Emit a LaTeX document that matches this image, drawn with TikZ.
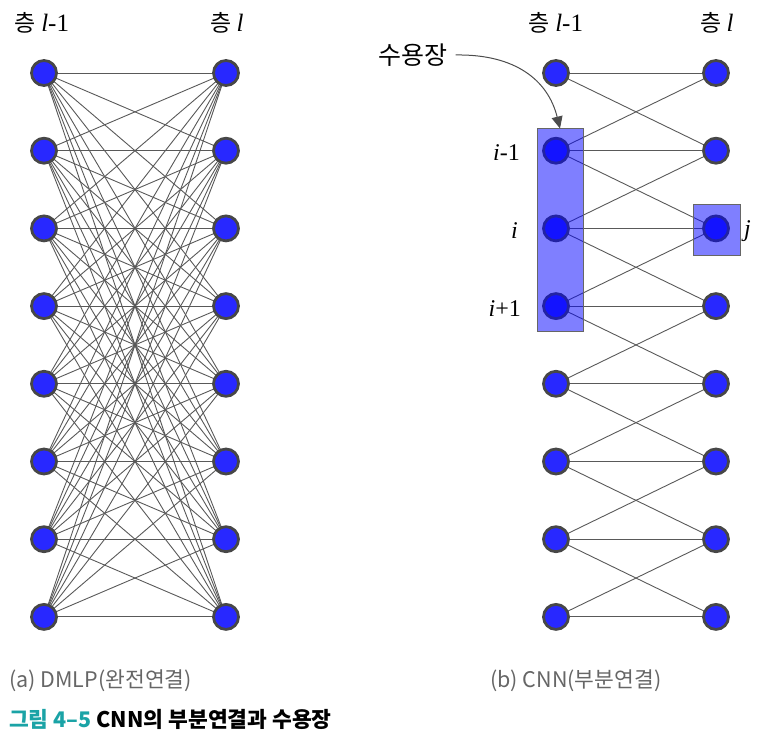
\documentclass[tikz,border=0pt]{standalone}
\usepackage{fontspec}
\newfontfamily\kr{Noto Sans CJK KR}
\newfontfamily\tms{Liberation Serif}
\usetikzlibrary{arrows.meta}
\pgfdeclarelayer{bg}
\pgfsetlayers{bg,main}
\definecolor{neufill}{RGB}{40,40,255}
\definecolor{teal5}{RGB}{26,163,166}
\tikzset{
  neuron/.style={circle, draw=black!72, line width=2.8pt, fill=neufill, minimum size=25pt, inner sep=0pt},
  conn/.style={draw=black!65, line width=0.9pt},
  layerlab/.style={font=\kr\fontsize{23}{23}\selectfont, inner sep=0pt},
  idxlab/.style={font=\tms\fontsize{24}{24}\selectfont, inner sep=0pt},
  rfbox/.style={draw=black!60, line width=1pt, fill=blue, fill opacity=0.5, inner sep=0pt},
  subcap/.style={font=\kr\fontsize{21.5}{22}\selectfont, text=black!60, inner sep=0pt, anchor=west},
  figcap/.style={font=\kr\bfseries\fontsize{21.5}{22}\selectfont, inner sep=0pt, anchor=west}
}
\begin{document}
\begin{tikzpicture}[x=1pt,y=-1pt]
\useasboundingbox (0,0) rectangle (780,743);
% ---- layer labels
\node[layerlab] (la1) at (42,23) {층 {\tms\itshape\fontsize{25}{25}\selectfont l\/}{\tms\fontsize{25}{25}\selectfont -1}};
\node[layerlab] (la2) at (227,23) {층 {\tms\itshape\fontsize{25}{25}\selectfont l}};
\node[layerlab] (lb1) at (556,23) {층 {\tms\itshape\fontsize{25}{25}\selectfont l\/}{\tms\fontsize{25}{25}\selectfont -1}};
\node[layerlab] (lb2) at (717,23) {층 {\tms\itshape\fontsize{25}{25}\selectfont l}};
% ---- neurons
\foreach \k in {0,...,7}{
  \pgfmathsetmacro{\yy}{73+77.7*\k}
  \node[neuron] (L\k) at (44,\yy) {};
  \node[neuron] (R\k) at (226,\yy) {};
  \node[neuron] (P\k) at (556,\yy) {};
  \node[neuron] (Q\k) at (716,\yy) {};
}
% ---- connections
\begin{pgfonlayer}{bg}
\foreach \a in {0,...,7}{
  \foreach \b in {0,...,7}{
    \draw[conn] (L\a.center) -- (R\b.center);
  }
}
\foreach \a in {0,...,7}{
  \draw[conn] (P\a.center) -- (Q\a.center);
}
\foreach \a [evaluate=\a as \b using int(\a+1)] in {0,...,6}{
  \draw[conn] (P\a.center) -- (Q\b.center);
  \draw[conn] (P\b.center) -- (Q\a.center);
}
\end{pgfonlayer}
% ---- receptive field boxes
\node[rfbox, minimum width=46pt, minimum height=203pt] (rf) at (560,230.5) {};
\node[rfbox, minimum width=47pt, minimum height=51pt] (jb) at (716.5,230.5) {};
% ---- index labels
\node[idxlab, anchor=east] (im1) at (520,152.7) {\itshape i\/\upshape -1};
\node[idxlab, anchor=east] (i0) at (518,230.4) {\itshape i};
\node[idxlab, anchor=east] (ip1) at (521,308.1) {\itshape i\/\upshape +1};
\node[idxlab, anchor=west] (jl) at (744,231) {\itshape j};
% ---- receptive field label and arrow
\node[font=\kr\fontsize{25}{25}\selectfont, inner sep=0pt] (rfl) at (413,55) {수용장};
\draw[draw=black!70, line width=1pt, -{Triangle[length=12pt,width=11pt]}]
  ([xshift=8pt]rfl.east) .. controls (515,54) and (548,80) .. (rf.north);
% ---- captions
\node[subcap] (ca) at (9,681) {(a) DMLP(완전연결)};
\node[subcap] (cb) at (490,681) {(b) CNN(부분연결)};
\node[figcap] (cf) at (9,719) {\textcolor{teal5}{그림 4–5} CNN의 부분연결과 수용장};
\end{tikzpicture}
\end{document}
